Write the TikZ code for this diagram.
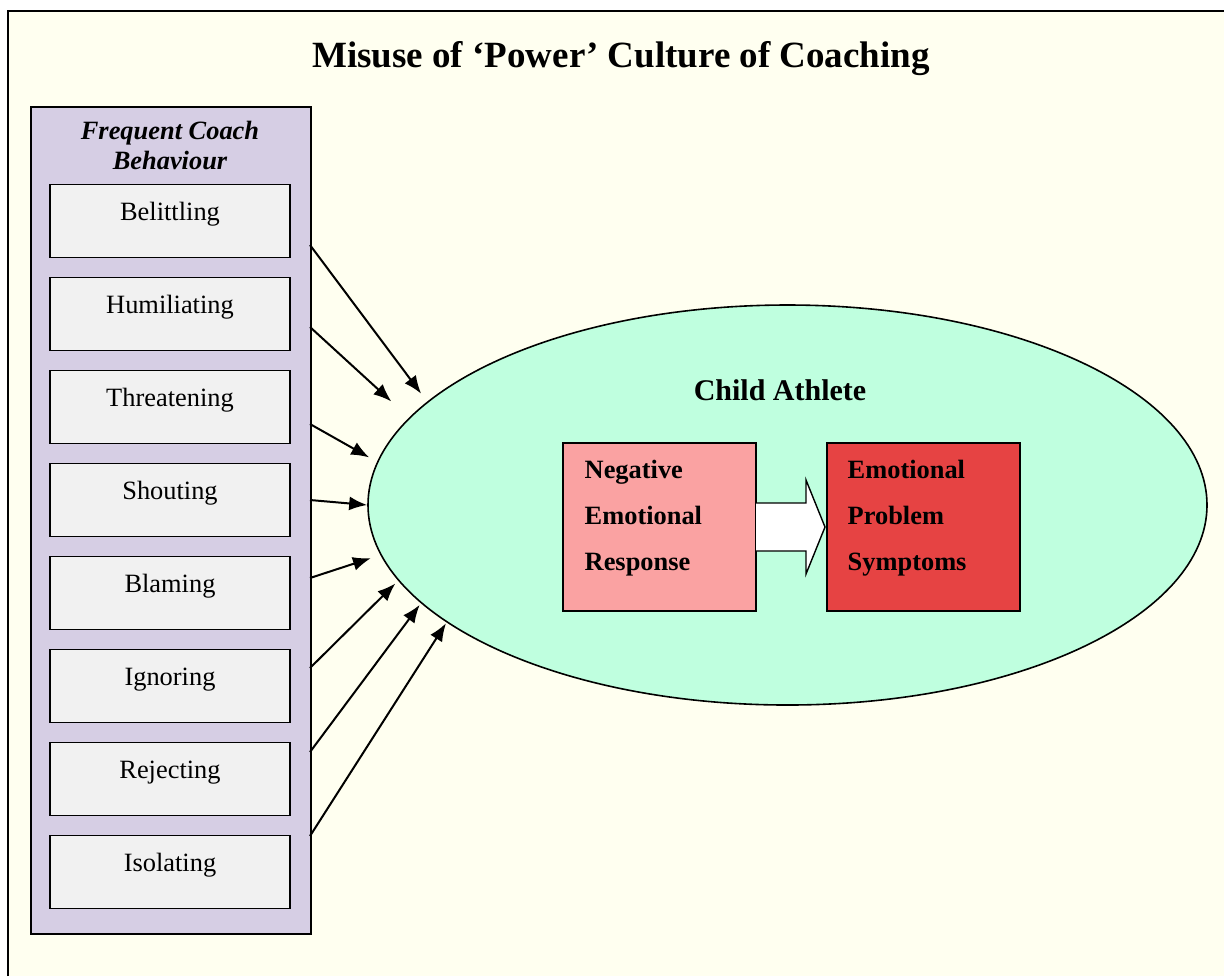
\documentclass[tikz,border=0pt]{standalone}
\usepackage{fontspec}
\setmainfont{Liberation Serif}
\usetikzlibrary{positioning,arrows.meta,shapes.geometric}
\definecolor{paperColor}{RGB}{255,255,240}
\definecolor{panelColor}{RGB}{214,206,228}
\definecolor{boxColor}{RGB}{241,241,241}
\definecolor{athleteColor}{RGB}{191,255,223}
\definecolor{responseColor}{RGB}{250,162,162}
\definecolor{symptomColor}{RGB}{230,67,67}
\tikzstyle{frameLine} = [line width=1pt]
\tikzstyle{panelStyle} = [draw, fill=panelColor, line width=0.8pt, inner sep=0pt]
\tikzstyle{behaviourBox} = [draw, fill=boxColor, line width=0.7pt, minimum width=120pt, inner sep=0pt, text height=18pt, text depth=18.5pt, font=\fontsize{13.2}{15}\selectfont]
\tikzstyle{stateBox} = [draw, line width=0.7pt, minimum width=96.5pt, minimum height=84pt, inner sep=0pt]
\tikzstyle{stateText} = [inner sep=0pt, align=left, font=\bfseries\fontsize{13.2}{23}\selectfont]
\tikzstyle{influenceArrow} = [line width=1pt, -{Latex[length=9pt,width=7pt]}]

\begin{document}
\begin{tikzpicture}[x=0.5pt, y=-0.5pt]
        \useasboundingbox (0,0) rectangle (1224,976);
        \fill[white] (0,0) rectangle (1224,976);
        \fill[paperColor] (8,11) rectangle (1224,976);
        \draw[frameLine] (8,976) |- (1224,11);

        \node[font=\bfseries\fontsize{18.5}{22}\selectfont, anchor=base] (title) at (621,67) {Misuse of ‘Power’ Culture of Coaching};

        % coach behaviours
        \node[panelStyle, minimum width=140pt, minimum height=413.5pt, anchor=north west] (panel) at (30,106) {};
        \node[font=\bfseries\itshape\fontsize{13.2}{15}\selectfont, align=center, anchor=north, inner sep=0pt] (panelHeading) at (170,121) {Frequent Coach\\Behaviour};
        \foreach \label [count=\i] in {Belittling,Humiliating,Threatening,Shouting,Blaming,Ignoring,Rejecting,Isolating} {
          \pgfmathsetmacro{\boxTop}{184 + 93 * (\i - 1)}
          \node[behaviourBox, anchor=north] (behaviour\i) at (170,\boxTop) {\label};
        }

        % child athlete
        \node[ellipse, draw, fill=athleteColor, line width=0.8pt, minimum width=419.5pt, minimum height=200pt, inner sep=0pt] (athlete) at (787.5,505) {};
        \node[font=\bfseries\fontsize{15}{18}\selectfont, anchor=base] (athleteLabel) at (780,400) {Child Athlete};

        \node[stateBox, fill=responseColor] (responseBox) at (659.5,527) {};
        \node[stateText, below right=8.5pt and 11pt of responseBox.north west] (responseText) {Negative\\Emotional\\Response};
        \node[stateBox, fill=symptomColor] (symptomBox) at (923.5,527) {};
        \node[stateText, below right=8.5pt and 10.5pt of symptomBox.north west] (symptomText) {Emotional\\Problem\\Symptoms};
        \filldraw[fill=white, line width=0.7pt] (756,503) -- (806,503) -- (806,480) -- (825,527) -- (806,574) -- (806,551) -- (756,551);

        \foreach \i/\startY/\angle/\gap in {1/245/164/5, 2/327/167/12, 3/424/174/4.5, 4/500/180/0, 5/578/187/5, 6/668/191/2, 7/752/195/1, 8/836/199/0.5} {
          \coordinate (start\i) at (310,\startY);
          \draw[influenceArrow, shorten >=\gap pt] (start\i) -- (athlete.\angle);
        }
      \end{tikzpicture}
\end{document}
